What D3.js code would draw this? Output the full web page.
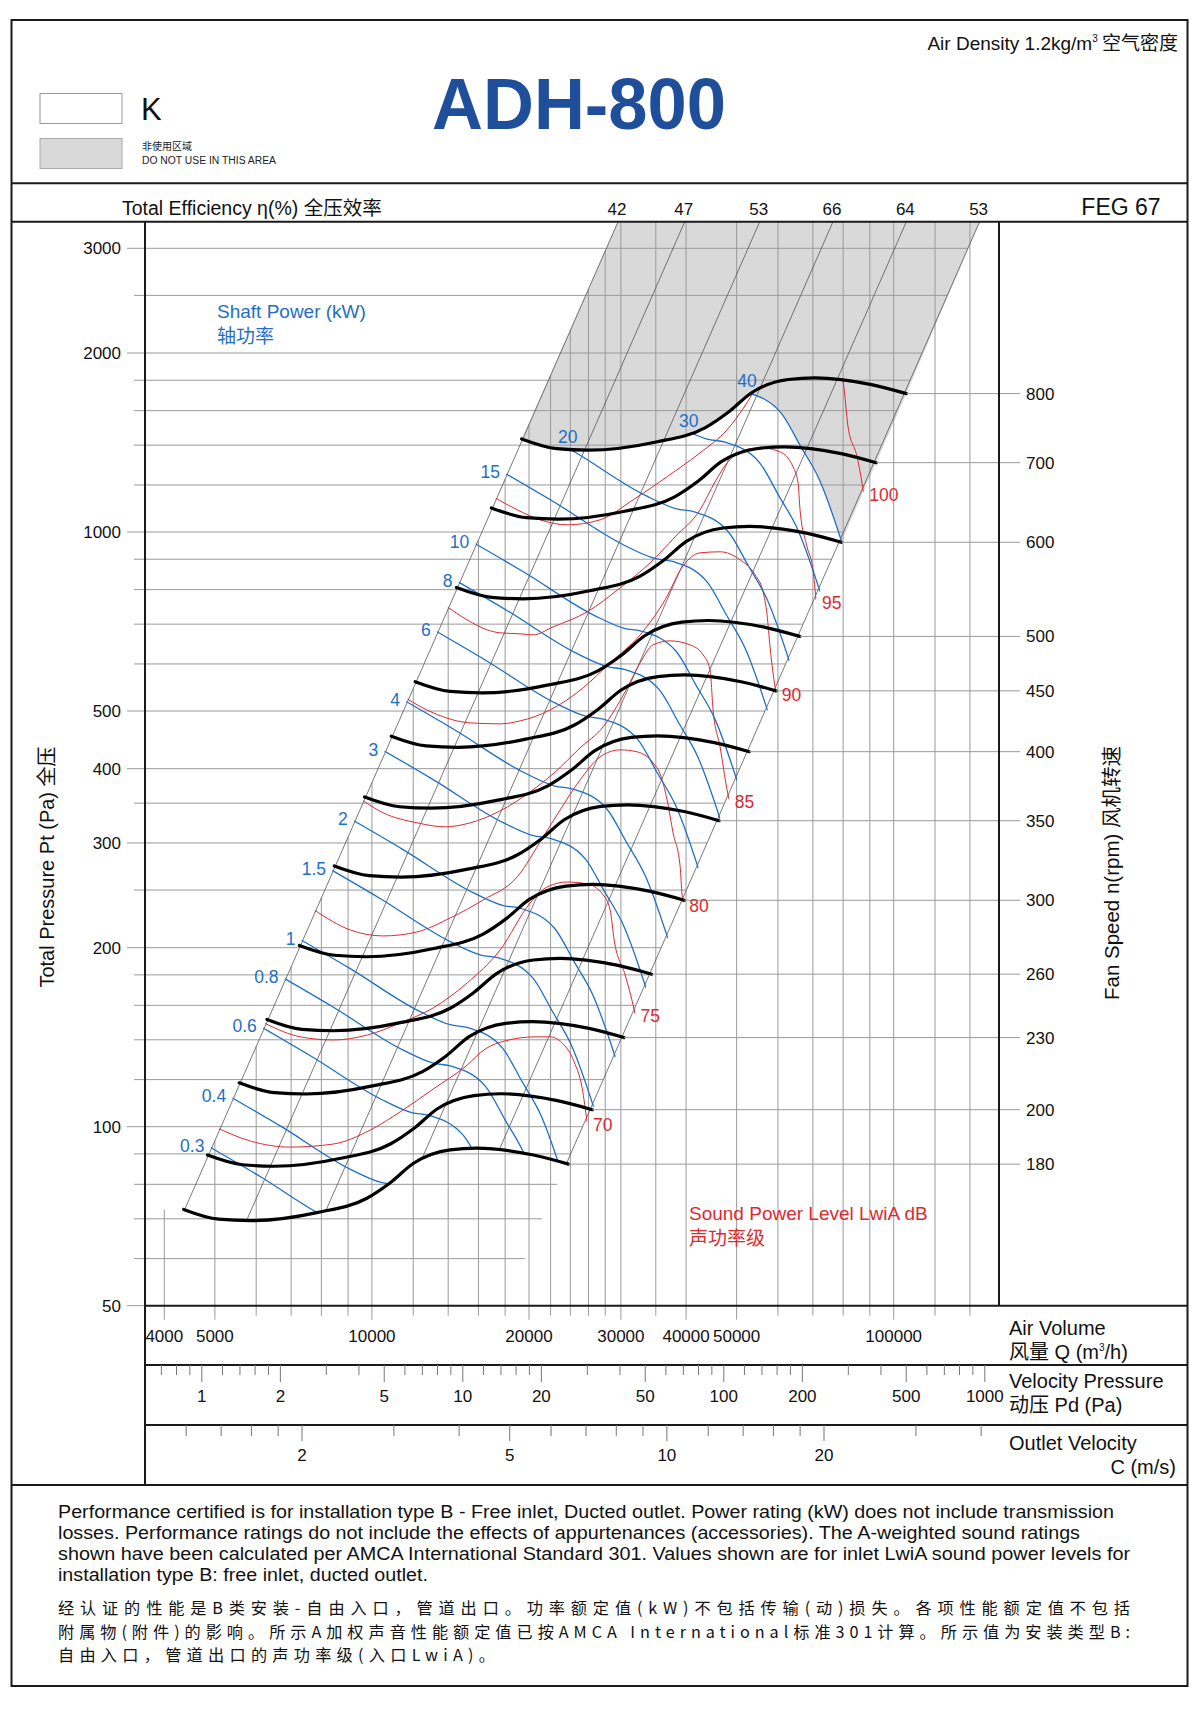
<!DOCTYPE html>
<html>
<head>
<meta charset="utf-8">
<title>ADH-800</title>
<script src="https://cdn.jsdelivr.net/npm/d3@7"></script>
<style>
  body { margin: 0; background: #fff; }
  svg text { font-family: "Liberation Sans", Arial, sans-serif; }
  .cjk { font-family: "Noto Sans CJK SC", sans-serif; }
</style>
</head>
<body>
<div id="chart"></div>
<script>
// ---- data ----
const fanSpeeds = [180, 200, 230, 260, 300, 350, 400, 450, 500, 600, 700, 800];
// air volume Q (m3/h), total pressure Pt (Pa) for each fan speed
const fanCurves = [
  [[4356,72.6],[5083,69.9],[5847,69.5],[7845,71.7],[9781,75.8],[10842,80.5],[12017,86.8],[14125,91.4],[15890,92.0],[20398,89.6],[23800,86.5]],
  [[4840,89.6],[5648,86.3],[6496,85.8],[8716,88.5],[10868,93.6],[12046,99.4],[13352,107.2],[15694,112.8],[17656,113.6],[22664,110.6],[26444,106.8]],
  [[5566,118.5],[6495,114.1],[7470,113.5],[10023,117.1],[12498,123.8],[13853,131.4],[15355,141.7],[18048,149.2],[20304,150.2],[26064,146.3],[30411,141.2]],
  [[6292,151.5],[7342,145.8],[8445,145.0],[11331,149.6],[14128,158.2],[15660,168.0],[17358,181.1],[20402,190.7],[22953,191.9],[29463,186.9],[34377,180.5]],
  [[7260,201.7],[8472,194.2],[9744,193.1],[13074,199.2],[16302,210.6],[18069,223.6],[20028,241.1],[23541,253.9],[26484,255.6],[33996,248.9],[39666,240.3]],
  [[8470,274.5],[9884,264.3],[11368,262.8],[15253,271.1],[19019,286.6],[21081,304.4],[23366,328.2],[27465,345.6],[30898,347.8],[39662,338.8],[46277,327.0]],
  [[9680,358.5],[11296,345.2],[12992,343.2],[17432,354.1],[21736,374.3],[24092,397.5],[26704,428.6],[31388,451.4],[35312,454.3],[45328,442.5],[52888,427.2]],
  [[10890,453.7],[12708,436.9],[14616,434.4],[19611,448.1],[24453,473.7],[27104,503.1],[30042,542.5],[35312,571.3],[39726,575.0],[50994,560.0],[59499,540.6]],
  [[12100,560.2],[14120,539.4],[16240,536.3],[21790,553.3],[27170,584.9],[30115,621.2],[33380,669.8],[39235,705.3],[44140,709.9],[56660,691.4],[66110,667.5]],
  [[14520,806.7],[16944,776.7],[19488,772.2],[26148,796.7],[32604,842.2],[36138,894.5],[40056,964.4],[47082,1015.6],[52968,1022.2],[67992,995.5],[79332,961.1]],
  [[16940,1098],[19768,1057],[22736,1051],[30506,1084],[38038,1146],[42161,1217],[46732,1313],[54929,1382],[61796,1391],[79324,1355],[92554,1308]],
  [[19360,1434],[22592,1381],[25984,1373],[34864,1416],[43472,1497],[48184,1590],[53408,1715],[62776,1805],[70624,1817],[90656,1770],[105776,1709]]
];

const powerLabels = ["0.3","0.4","0.6","0.8","1","1.5","2","3","4","6","8","10","15","20","30","40"];
const powerCurves = [
  [[4668,94.6],[6084,82.6],[8281,69.9],[9457,66.5],[10238,65.7],[11894,60.9],[12992,53.3],[14069,47.1],[15914,34.7]],
  [[5138,114.6],[6696,100.1],[9114,84.7],[10408,80.6],[11268,79.6],[13091,73.7],[14299,64.6],[15484,57.1],[17515,42.0]],
  [[5882,150.3],[7664,131.2],[10433,111.1],[11914,105.6],[12899,104.4],[14985,96.6],[16368,84.7],[17725,74.8],[20049,55.1]],
  [[6474,181.9],[8436,158.8],[11483,134.5],[13114,127.9],[14197,126.4],[16493,117.0],[18015,102.5],[19509,90.6],[22067,66.7]],
  [[6974,211.1],[9087,184.4],[12370,156.1],[14126,148.4],[15294,146.7],[17767,135.8],[19407,119.0],[21016,105.1],[23772,77.4]],
  [[7983,276.6],[10402,241.5],[14160,204.5],[16170,194.4],[17506,192.2],[20338,177.9],[22215,155.9],[24057,137.7],[27211,101.4]],
  [[8786,335.2],[11450,292.7],[15586,247.8],[17798,235.6],[19269,232.9],[22385,215.6],[24451,188.9],[26479,166.9],[29950,122.9]],
  [[10057,439.1],[13106,383.4],[17840,324.6],[20373,308.7],[22056,305.1],[25624,282.4],[27989,247.5],[30309,218.6],[34283,161.0]],
  [[11070,532.1],[14425,464.6],[19636,393.3],[22424,374.0],[24277,369.7],[28203,342.2],[30806,299.9],[33361,264.9],[37735,195.1]],
  [[12672,697.2],[16513,608.7],[22478,515.4],[25669,490.1],[27790,484.4],[32285,448.4],[35264,392.9],[38188,347.1],[43195,255.7]],
  [[13947,844.6],[18175,737.4],[24741,624.3],[28253,593.7],[30587,586.8],[35534,543.1],[38814,476.0],[42032,420.5],[47543,309.7]],
  [[15024,980.0],[19578,855.7],[26651,724.4],[30434,688.9],[32949,680.9],[38278,630.2],[41811,552.3],[45278,487.9],[51214,359.4]],
  [[17198,1284],[22412,1121],[30508,949.3],[34838,902.7],[37717,892.3],[43817,825.9],[47861,723.8],[51830,639.4],[58626,471.0]],
  [[18929,1556],[24667,1358],[33578,1150],[38344,1094],[41513,1081],[48227,1000],[52678,876.8],[57046,774.6],[64526,570.5]],
  [[21669,2039],[28237,1780],[38437,1507],[43893,1433],[47521,1416],[55206,1311],[60302,1149],[65302,1015],[73864,747.6]],
  [[23850,2470],[31079,2156],[42306,1826],[48312,1736],[52304,1716],[60763,1588],[66371,1392],[71875,1230],[81299,905.6]]
];

const soundLabels = ["70","75","80","85","90","95","100"];
const soundCurves = [
  [[5054,99.5],[5847,94.6],[6975,92.4],[8431,93.5],[9925,98.7],[11329,105.9],[13107,115.7],[15155,126.5],[16484,135.1],[18003,139.4],[20552,141.6],[21959,141.6],[23151,138.3],[24410,128.5],[25287,116.2],[25851,101.8],[26081,96.8]],
  [[6219,149.4],[7289,141.6],[8431,139.9],[9795,142.6],[11329,149.4],[13107,158.4],[15225,174.5],[17611,198.3],[20103,237.8],[21668,253.0],[23667,257.9],[25851,256.0],[27737,245.4],[28614,231.5],[29124,206.1],[30567,180.0],[31805,157.2],[32086,151.2]],
  [[7750,231.5],[9087,214.2],[10511,209.3],[12211,212.6],[14125,224.4],[16339,240.6],[18983,263.0],[21289,307.1],[22948,341.0],[25063,383.0],[27374,418.7],[29901,430.2],[32230,426.9],[34584,409.1],[35666,392.0],[36790,354.4],[37774,311.9],[38959,274.5],[39304,245.4],[39653,236.0]],
  [[9624,353.1],[10511,337.1],[12211,324.3],[13817,319.3],[15428,324.3],[17611,339.7],[20103,365.6],[22449,395.0],[25063,433.5],[27737,470.3],[30567,538.5],[32659,602.6],[34584,646.0],[37277,656.1],[40717,646.0],[43128,621.5],[44471,586.5],[45062,502.2],[46476,435.2],[47935,368.4],[48360,354.4]],
  [[11600,526.0],[13107,496.4],[15428,477.6],[17611,475.8],[19236,481.3],[21959,502.2],[25397,547.0],[28614,602.6],[32659,671.5],[36465,769.1],[39478,877.3],[42553,922.6],[46476,926.3],[50764,898.0],[54239,847.3],[56185,793.3],[57186,725.5],[57947,641.0],[59239,549.1],[59766,528.2]],
  [[13939,748.5],[15225,711.7],[16630,684.7],[17611,676.8],[19236,674.2],[20370,671.5],[22250,692.7],[25851,734.1],[29901,805.6],[34129,887.6],[38109,981.6],[42553,1090],[45465,1215],[48147,1313],[51213,1369],[55447,1386],[60562,1364],[64136,1287],[65566,1210],[66147,1090],[68224,944.3],[70049,863.8],[70669,799.4],[70981,769.1]],
  [[17223,1141.6],[18983,1090],[21010,1048.4],[23667,1028.3],[27374,1048.4],[31664,1132.8],[36790,1238.8],[42553,1359.1],[47935,1485.7],[52357,1649.9],[55447,1788.6],[63291,1888.9],[70669,1933.3],[77180,1918.4],[79966,1788.6],[81752,1503.1],[85062,1338.2],[87345,1177.5],[88119,1111.2]]
];

// total efficiency lines (P ~ Q^2), given by their air volume at 3000 Pa
const effLabels = ["42", "47", "53", "66", "64", "53"];
const effQ = [28142, 37774, 52588, 72664, 100442, 138780];

const qGrid = [4000,5000,6000,7000,8000,9000,10000,12000,14000,16000,18000,20000,22000,24000,26000,28000,30000,35000,40000,50000,60000,70000,80000,90000,100000,120000,140000];
const qLabels = [4000, 5000, 10000, 20000, 30000, 40000, 50000, 100000];
const pGrid = [60,70,80,90,100,120,140,160,180,200,250,300,350,400,500,600,700,800,900,1000,1200,1400,1600,1800,2000,2500,3000];
const pLabels = [50, 100, 200, 300, 400, 500, 1000, 2000, 3000];
const pdTicks = [0.7,0.8,0.9,1,1.2,1.4,1.6,1.8,2,3,4,5,6,7,8,9,10,12,14,16,18,20,30,40,50,60,70,80,90,100,120,140,160,180,200,300,400,500,600,700,800,900,1000];
const pdLabels = [1, 2, 5, 10, 20, 50, 100, 200, 500, 1000];
const cTicks = [1.2,1.4,1.6,1.8,2,3,4,5,6,7,8,9,10,12,14,16,18,20,30,40];
const cLabels = [2, 5, 10, 20];

const noteEn = [
  "Performance certified is for installation type B - Free inlet, Ducted outlet. Power rating (kW) does not include transmission",
  "losses. Performance ratings do not include the effects of appurtenances (accessories). The A-weighted sound ratings",
  "shown have been calculated per AMCA International Standard 301. Values shown are for inlet LwiA sound power levels for",
  "installation type B: free inlet, ducted outlet."
];
const noteCn = [
  "经认证的性能是B类安装-自由入口，管道出口。功率额定值(kW)不包括传输(动)损失。各项性能额定值不包括",
  "附属物(附件)的影响。所示A加权声音性能额定值已按AMCA International标准301计算。所示值为安装类型B:",
  "自由入口，管道出口的声功率级(入口LwiA)。"
];

// ---- layout ----
const width = 1200, height = 1710;
const frame = {left: 11.5, right: 1187.5, top: 20, bottom: 1686};
const plot = {left: 145, right: 999, top: 221.7, bottom: 1305.7};
const headerLine = 183.3;
const rowLines = [1365, 1425, 1485];

const blue = "#1f6fc6", red = "#dc2a30", gridColor = "#9a9a9a", shade = "#d9d9d9";

const x = d3.scaleLog().domain([4000, 100000]).range([164.3, 893.7]);
const y = d3.scaleLog().domain([50, 3000]).range([1305.7, 248.3]);
const xPd = d3.scaleLog().domain([1, 1000]).range([201.8, 984.8]);
const xC = d3.scaleLog().domain([2, 20]).range([302, 824]);

const svg = d3.select("#chart").append("svg")
    .attr("width", width)
    .attr("height", height);
svg.append("rect").attr("width", width).attr("height", height).attr("fill", "#fff");
const defs = svg.append("defs");

const curveLine = d3.line()
    .x(d => x(d[0]))
    .y(d => y(d[1]))
    .curve(d3.curveMonotoneX);

function samplePath(d, step) {
    const p = svg.append("path").attr("d", d).attr("fill", "none");
    const node = p.node(), len = node.getTotalLength(), pts = [];
    for (let s = 0; s < len; s += step) {
        const q = node.getPointAtLength(s);
        pts.push([q.x, q.y]);
    }
    const q = node.getPointAtLength(len);
    pts.push([q.x, q.y]);
    p.remove();
    return pts;
}
const toD = pts => "M" + pts.map(p => p[0].toFixed(2) + "," + p[1].toFixed(2)).join("L") + "Z";

const pTop = y.invert(plot.top);
const qOnEff = (i, p) => effQ[i] * Math.sqrt(p / 3000);

// region between lowest and highest speed curves
const topPts = samplePath(curveLine(fanCurves[fanCurves.length - 1]), 2);
const bottomPts = samplePath(curveLine(fanCurves[0]), 2);
const regionPoly = topPts.concat(bottomPts.slice().reverse());
defs.append("clipPath").attr("id", "region").append("path").attr("d", toD(regionPoly));
const bEnd = bottomPts[bottomPts.length - 1];
const abovePoly = [[0, bottomPts[0][1]]].concat(bottomPts, [[width, bEnd[1]], [width, 0], [0, 0]]);
defs.append("clipPath").attr("id", "above").append("path").attr("d", toD(abovePoly));

// ---- do-not-use area ----
const shade1 = topPts.concat([[x(qOnEff(5, pTop)), plot.top], [x(qOnEff(0, pTop)), plot.top]]);
svg.append("path").attr("d", toD(shade1)).attr("fill", shade);
const maxPower = samplePath(curveLine(powerCurves[powerCurves.length - 1]), 2);
const mpEnd = maxPower[maxPower.length - 1];
svg.append("path")
    .attr("d", toD(maxPower.concat([[1150, mpEnd[1]], [1150, maxPower[0][1]]])))
    .attr("fill", shade)
    .attr("clip-path", "url(#region)");

// ---- grid ----
const grid = svg.append("g").attr("stroke", gridColor).attr("stroke-width", 1);
const yBottomStart = y(fanCurves[0][0][1]);
qGrid.forEach(q => {
    const yTop = Math.max(plot.top, Math.min(y(3000 * Math.pow(q / effQ[0], 2)), yBottomStart));
    grid.append("line")
        .attr("x1", x(q)).attr("x2", x(q))
        .attr("y1", yTop)
        .attr("y2", plot.bottom + (qLabels.includes(q) ? 14 : 10));
});
pGrid.forEach(p => {
    grid.append("line")
        .attr("x1", pLabels.includes(p) ? 127 : 134)
        .attr("x2", x(qOnEff(effQ.length - 1, p)))
        .attr("y1", y(p)).attr("y2", y(p));
});
grid.append("line").attr("x1", 127).attr("x2", plot.left).attr("y1", y(50)).attr("y2", y(50));

// efficiency lines
const effG = svg.append("g").attr("clip-path", "url(#above)");
effQ.forEach((q, i) => {
    effG.append("line")
        .attr("x1", x(qOnEff(i, pTop))).attr("y1", y(pTop))
        .attr("x2", x(qOnEff(i, 40))).attr("y2", y(40))
        .attr("stroke", "#555").attr("stroke-width", 0.8);
});

// ---- sound and power curves ----
const inner = svg.append("g").attr("clip-path", "url(#region)").attr("fill", "none");
soundCurves.forEach(c => {
    inner.append("path").attr("d", curveLine(c)).attr("stroke", red).attr("stroke-width", 1);
});
powerCurves.forEach(c => {
    inner.append("path").attr("d", curveLine(c)).attr("stroke", blue).attr("stroke-width", 1.3);
});

// ---- fan speed curves ----
fanCurves.forEach(c => {
    svg.append("path").attr("d", curveLine(c))
        .attr("fill", "none").attr("stroke", "#000").attr("stroke-width", 3.2)
        .attr("stroke-linecap", "round");
});
fanCurves.forEach((c, i) => {
    const end = c[c.length - 1];
    svg.append("line")
        .attr("x1", x(end[0])).attr("x2", 1020)
        .attr("y1", y(end[1])).attr("y2", y(end[1]))
        .attr("stroke", gridColor).attr("stroke-width", 1);
    svg.append("text")
        .attr("x", 1026).attr("y", y(end[1]) + 6)
        .attr("font-size", 17).attr("fill", "#111")
        .text(fanSpeeds[i]);
});

// ---- curve labels ----
powerCurves.forEach((c, i) => {
    const pts = samplePath(curveLine(c), 1);
    const first = pts.find(p => d3.polygonContains(regionPoly, p));
    if (!first) return;
    const xl = x(qOnEff(0, y.invert(first[1])));
    const t = svg.append("text").attr("font-size", 17.5).attr("fill", blue).text(powerLabels[i]);
    if (first[0] - xl < 4) {
        t.attr("x", first[0] - 7).attr("y", first[1] + 4).attr("text-anchor", "end");
    } else {
        t.attr("x", first[0] - 4).attr("y", first[1] - 7).attr("text-anchor", "middle");
    }
});
soundCurves.forEach((c, i) => {
    const pts = samplePath(curveLine(c), 1).filter(p => d3.polygonContains(regionPoly, p));
    const last = pts[pts.length - 1];
    svg.append("text")
        .attr("x", last[0] + 6).attr("y", last[1] + 10)
        .attr("font-size", 17.5).attr("fill", red)
        .text(soundLabels[i]);
});

// ---- frame ----
const frameG = svg.append("g").attr("stroke", "#1a1a1a").attr("stroke-width", 2).attr("fill", "none");
frameG.append("rect")
    .attr("x", frame.left).attr("y", frame.top)
    .attr("width", frame.right - frame.left).attr("height", frame.bottom - frame.top);
[headerLine, plot.top, rowLines[2]].forEach(yy =>
    frameG.append("line").attr("x1", frame.left).attr("x2", frame.right).attr("y1", yy).attr("y2", yy));
[plot.bottom, rowLines[0], rowLines[1]].forEach(yy =>
    frameG.append("line").attr("x1", plot.left).attr("x2", frame.right).attr("y1", yy).attr("y2", yy));
frameG.append("line").attr("x1", plot.left).attr("x2", plot.left).attr("y1", plot.top).attr("y2", rowLines[2]);
frameG.append("line").attr("x1", plot.right).attr("x2", plot.right).attr("y1", plot.top).attr("y2", plot.bottom);

// ---- axis labels ----
pLabels.forEach(p => {
    svg.append("text").attr("x", 121).attr("y", y(p) + 6)
        .attr("text-anchor", "end").attr("font-size", 17).attr("fill", "#111").text(p);
});
qLabels.forEach(q => {
    svg.append("text").attr("x", x(q)).attr("y", 1342)
        .attr("text-anchor", "middle").attr("font-size", 17).attr("fill", "#111").text(q);
});
const ticks = svg.append("g").attr("stroke", "#777").attr("stroke-width", 1);
pdTicks.forEach(v => {
    ticks.append("line").attr("x1", xPd(v)).attr("x2", xPd(v))
        .attr("y1", rowLines[0]).attr("y2", rowLines[0] + (pdLabels.includes(v) ? 17 : 10));
});
pdLabels.forEach(v => {
    svg.append("text").attr("x", xPd(v)).attr("y", 1402)
        .attr("text-anchor", "middle").attr("font-size", 17).attr("fill", "#111").text(v);
});
cTicks.forEach(v => {
    ticks.append("line").attr("x1", xC(v)).attr("x2", xC(v))
        .attr("y1", rowLines[1]).attr("y2", rowLines[1] + (cLabels.includes(v) ? 16 : 11));
});
cLabels.forEach(v => {
    svg.append("text").attr("x", xC(v)).attr("y", 1461)
        .attr("text-anchor", "middle").attr("font-size", 17).attr("fill", "#111").text(v);
});
effLabels.forEach((lab, i) => {
    svg.append("text").attr("x", x(qOnEff(i, pTop)) - 1).attr("y", 215)
        .attr("text-anchor", "middle").attr("font-size", 17).attr("fill", "#111").text(lab);
});

// mixed latin / CJK text helper
function mixed(g, parts, attrs) {
    const t = g.append("text");
    Object.entries(attrs).forEach(([k, v]) => t.attr(k, v));
    parts.forEach(([s, cls, extra]) => {
        const ts = t.append("tspan").text(s);
        if (cls) ts.attr("class", cls);
        if (extra) Object.entries(extra).forEach(([k, v]) => ts.attr(k, v));
    });
    return t;
}

// header
mixed(svg, [["Air Density 1.2kg/m"], ["3", null, {"font-size": 10, "dy": -8}], [" 空气密度", "cjk", {"dy": 8}]],
    {x: 1178, y: 50, "text-anchor": "end", "font-size": 19, fill: "#111"});
svg.append("text").attr("x", 579).attr("y", 129).attr("text-anchor", "middle")
    .attr("font-size", 72).attr("font-weight", "bold").attr("fill", "#1f4e9b")
    .attr("textLength", 294).attr("lengthAdjust", "spacingAndGlyphs").text("ADH-800");
svg.append("rect").attr("x", 40).attr("y", 93.5).attr("width", 82).attr("height", 30)
    .attr("fill", "#fff").attr("stroke", "#999").attr("stroke-width", 1);
svg.append("rect").attr("x", 40).attr("y", 138.5).attr("width", 82).attr("height", 30)
    .attr("fill", shade).attr("stroke", "#aaa").attr("stroke-width", 1);
svg.append("text").attr("x", 141).attr("y", 120).attr("font-size", 31).attr("fill", "#111").text("K");
svg.append("text").attr("x", 142).attr("y", 150).attr("class", "cjk").attr("font-size", 10).attr("fill", "#222").text("非使用区域");
svg.append("text").attr("x", 142).attr("y", 164).attr("font-size", 10).attr("fill", "#222")
    .attr("textLength", 134).attr("lengthAdjust", "spacingAndGlyphs").text("DO NOT USE IN THIS AREA");
mixed(svg, [["Total Efficiency η(%) "], ["全压效率", "cjk"]],
    {x: 122, y: 215, "font-size": 19.5, fill: "#111"});
svg.append("text").attr("x", 1121).attr("y", 215).attr("text-anchor", "middle")
    .attr("font-size", 23).attr("fill", "#111").text("FEG 67");

// axis titles
mixed(svg, [["Total Pressure Pt (Pa) "], ["全压", "cjk"]],
    {transform: "translate(54,867) rotate(-90)", "text-anchor": "middle", "font-size": 20, fill: "#111"});
mixed(svg, [["Fan Speed n(rpm) "], ["风机转速", "cjk"]],
    {transform: "translate(1119,873) rotate(-90)", "text-anchor": "middle", "font-size": 20.5, fill: "#111"});

// series titles
svg.append("text").attr("x", 217).attr("y", 318).attr("font-size", 19).attr("fill", blue).text("Shaft Power (kW)");
svg.append("text").attr("x", 217).attr("y", 343).attr("class", "cjk").attr("font-size", 19).attr("fill", blue).text("轴功率");
svg.append("text").attr("x", 689).attr("y", 1220).attr("font-size", 19).attr("fill", red).text("Sound Power Level LwiA dB");
svg.append("text").attr("x", 689).attr("y", 1245).attr("class", "cjk").attr("font-size", 19).attr("fill", red).text("声功率级");

// row titles
svg.append("text").attr("x", 1009).attr("y", 1335).attr("font-size", 20).attr("fill", "#111").text("Air Volume");
mixed(svg, [["风量", "cjk"], [" Q (m"], ["3", null, {"font-size": 10, "dy": -8}], ["/h)", null, {"dy": 8}]],
    {x: 1009, y: 1359, "font-size": 20, fill: "#111"});
svg.append("text").attr("x", 1009).attr("y", 1388).attr("font-size", 20).attr("fill", "#111").text("Velocity Pressure");
mixed(svg, [["动压", "cjk"], [" Pd (Pa)"]], {x: 1009, y: 1412, "font-size": 20, fill: "#111"});
svg.append("text").attr("x", 1009).attr("y", 1450).attr("font-size", 20).attr("fill", "#111").text("Outlet Velocity");
svg.append("text").attr("x", 1176).attr("y", 1474).attr("text-anchor", "end").attr("font-size", 20).attr("fill", "#111").text("C (m/s)");

// footnote
const enWidths = [1056, 1022, 1072, 370];
noteEn.forEach((s, i) => {
    svg.append("text").attr("x", 58).attr("y", 1518 + i * 21)
        .attr("font-size", 17.5).attr("fill", "#111")
        .attr("textLength", enWidths[i]).attr("lengthAdjust", "spacingAndGlyphs")
        .text(s);
});
const cnWidths = [1072, 1072, 437];
noteCn.forEach((s, i) => {
    svg.append("text").attr("x", 58).attr("y", 1614 + i * 23.6)
        .attr("class", "cjk").attr("font-size", 16.2).attr("fill", "#111")
        .attr("textLength", cnWidths[i]).attr("lengthAdjust", "spacing").text(s);
});
</script>
</body>
</html>
